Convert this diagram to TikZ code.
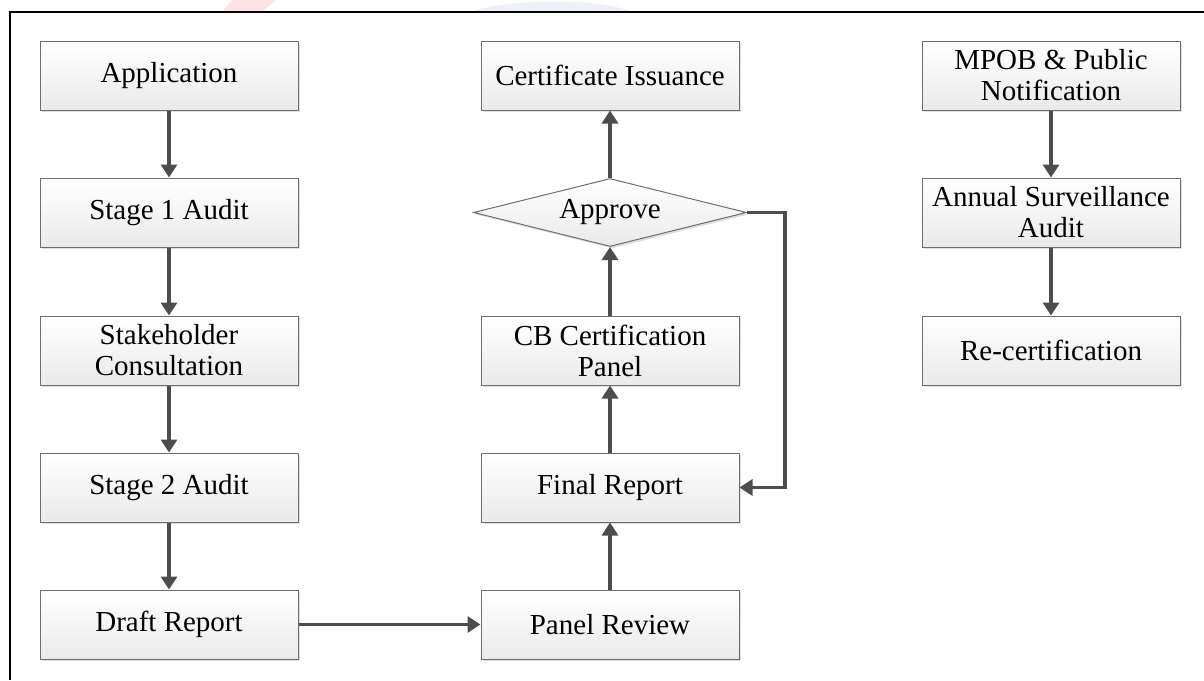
\documentclass[tikz,border=0pt]{standalone}
\usepackage{fontspec}
\setmainfont{Liberation Serif}
\usetikzlibrary{arrows.meta,shapes.geometric,shadows}
\definecolor{boxline}{HTML}{6E6E6E}
\definecolor{boxbot}{HTML}{EAEAEA}
\definecolor{arrcol}{HTML}{4D4D4D}
\definecolor{wmpink}{HTML}{FBE3E6}
\definecolor{wmblue}{HTML}{EEF0F8}
\begin{document}
\begin{tikzpicture}[x=1pt,y=-1pt,
  box/.style={draw=boxline, line width=1pt, top color=white, bottom color=boxbot,
    minimum width=258pt, minimum height=69pt, align=center, inner sep=0pt,
    font=\fontsize{29}{31}\selectfont,
    drop shadow={shadow xshift=2pt, shadow yshift=-2pt, opacity=0.25, fill=gray}},
  decision/.style={box, shape=diamond, aspect=4, minimum width=273pt, minimum height=68pt},
  arr/.style={draw=arrcol, line width=3.8pt, line join=miter,
    -{Triangle[width=16pt,length=13pt]}},
  frame/.style={draw=black, line width=1.6pt}
]
\useasboundingbox (0,0) rectangle (1204,680);
% faint watermark above the frame
\fill[wmpink] (232,0) -- (276,0) -- (262,12) -- (222,12) -- cycle;
\fill[wmblue] (470,12) .. controls (510,-2) and (600,-2) .. (632,12) -- cycle;
% frame
\draw[frame] (1204,12) -- (10,12) -- (10,680);
% left column
\node[box] (app) at (169,75.5) {Application};
\node[box] (s1)  at (169,212.5) {Stage 1 Audit};
\node[box] (sc)  at (169,350.5) {Stakeholder\\Consultation};
\node[box] (s2)  at (169,487.5) {Stage 2 Audit};
\node[box] (dr)  at (169,624.5) {Draft Report};
% middle column
\node[box] (ci) at (610,75.5) {Certificate Issuance};
\node[decision] (ap) at (610,212.5) {Approve};
\node[box] (cb) at (610,350.5) {CB Certification\\Panel};
\node[box] (fr) at (610,487.5) {Final Report};
\node[box] (pr) at (610,624.5) {Panel Review};
% right column
\node[box] (mp) at (1051,75.5) {MPOB \& Public\\Notification};
\node[box] (as) at (1051,212.5) {Annual Surveillance\\Audit};
\node[box] (rc) at (1051,350.5) {Re-certification};
% connectors
\draw[arr] (app) -- (s1);
\draw[arr] (s1) -- (sc);
\draw[arr] (sc) -- (s2);
\draw[arr] (s2) -- (dr);
\draw[arr] (dr) -- (pr);
\draw[arr] (pr) -- (fr);
\draw[arr] (fr) -- (cb);
\draw[arr] (cb) -- (ap);
\draw[arr] (ap) -- (ci);
\coordinate (fb) at (785,212.5);
\draw[arr] (ap.east) -- (fb) |- (fr.east);
\draw[arr] (mp) -- (as);
\draw[arr] (as) -- (rc);
\end{tikzpicture}
\end{document}
